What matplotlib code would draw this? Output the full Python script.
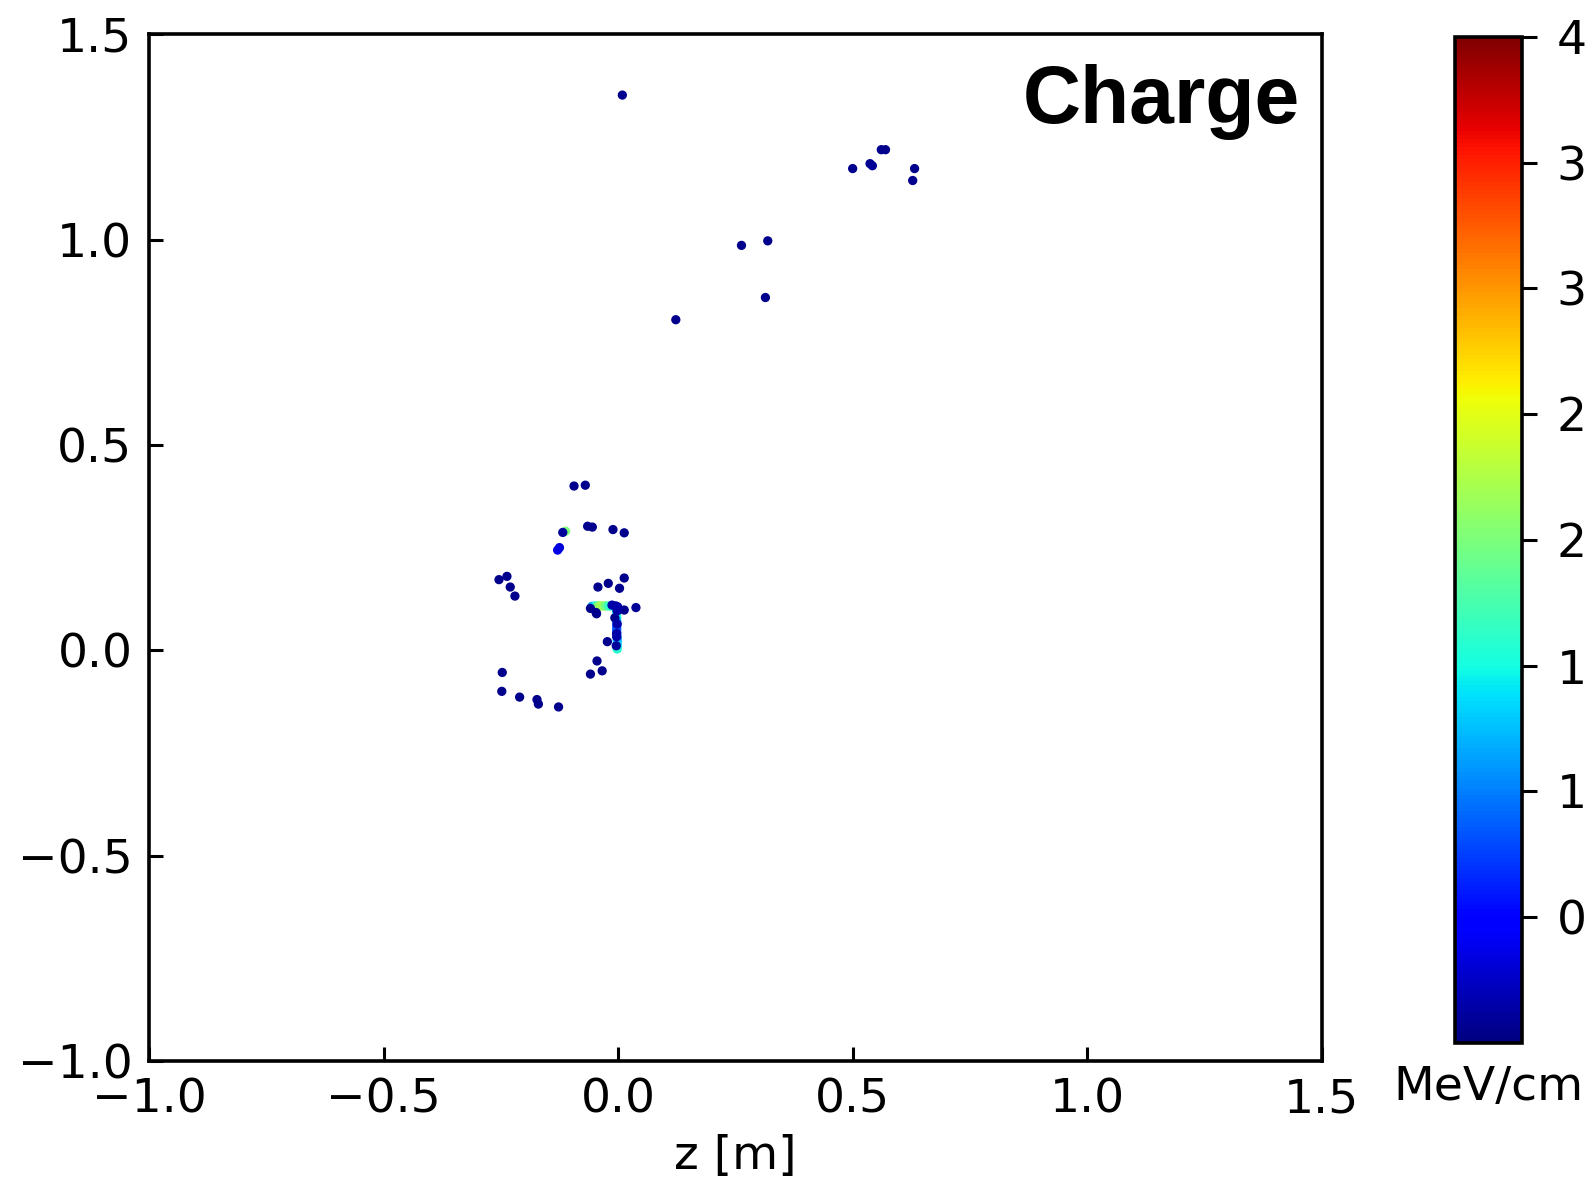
import matplotlib
matplotlib.use("Agg")
import matplotlib.pyplot as plt
import numpy as np

# isolated hits (z, x, dE/dx)
hit_z = [0.009, 0.500, 0.537, 0.542, 0.561, 0.570, 0.632, 0.628, 0.263, 0.319, 0.314, 0.123,
         -0.094, -0.070, -0.118, -0.065, -0.055, -0.011, 0.013, -0.125, -0.129,
         -0.254, -0.237, -0.230, -0.220, -0.043, -0.021, 0.003, 0.013, 0.038,
         -0.059, -0.047, -0.046, -0.013, -0.005, 0.013, -0.007,
         -0.001, -0.002, -0.002, -0.003, -0.003, -0.004,
         -0.023, -0.045, -0.034, -0.059, -0.247, -0.248, -0.210, -0.173, -0.170, -0.127]
hit_x = [1.352, 1.173, 1.185, 1.180, 1.219, 1.219, 1.173, 1.144, 0.986, 0.997, 0.859, 0.805,
         0.400, 0.402, 0.287, 0.302, 0.300, 0.294, 0.286, 0.250, 0.244,
         0.172, 0.180, 0.154, 0.132, 0.154, 0.163, 0.151, 0.176, 0.104,
         0.102, 0.092, 0.089, 0.110, 0.108, 0.098, 0.079,
         0.106, 0.096, 0.064, 0.041, 0.033, 0.011,
         0.021, -0.026, -0.050, -0.058, -0.054, -0.100, -0.114, -0.120, -0.131, -0.138]
hit_e = [0.05, 0.05, 0.05, 0.08, 0.05, 0.05, 0.05, 0.05, 0.05, 0.05, 0.05, 0.05,
         0.05, 0.05, 0.10, 0.05, 0.05, 0.05, 0.05, 0.30, 0.35,
         0.05, 0.05, 0.05, 0.05, 0.05, 0.05, 0.05, 0.05, 0.08,
         0.05, 0.05, 0.05, 0.15, 0.15, 0.05, 0.05,
         0.15, 0.15, 0.15, 0.15, 0.15, 0.10,
         0.05, 0.05, 0.05, 0.05, 0.05, 0.05, 0.05, 0.05, 0.05, 0.05]

# the short track near the vertex
trk_z = [-0.112, -0.056, -0.052, -0.048, -0.044, -0.040, -0.036, -0.032, -0.028, -0.024,
         -0.020, -0.016, -0.012, -0.008, -0.005,
         -0.003, -0.003, -0.003, -0.003, -0.003, -0.003, -0.003, -0.003, -0.003,
         -0.003, -0.002, -0.002, -0.002, -0.002, -0.002]
trk_x = [0.290, 0.107, 0.107, 0.108, 0.108, 0.108, 0.108, 0.108, 0.108, 0.108,
         0.108, 0.108, 0.108, 0.107, 0.107,
         0.100, 0.093, 0.086, 0.079, 0.072, 0.065, 0.058, 0.051, 0.044,
         0.037, 0.030, 0.023, 0.016, 0.009, 0.003]
trk_e = [2.0, 1.2, 1.3, 1.5, 1.9, 2.1, 2.2, 2.2, 2.0, 1.9,
         1.7, 1.6, 1.6, 1.4, 1.2,
         1.0, 1.4, 1.7, 1.5, 1.2, 0.9, 0.8, 0.8, 0.9,
         1.0, 1.1, 1.2, 1.3, 1.4, 1.6]

cbar_ticks = [0.5, 1.0, 1.5, 2.0, 2.5, 3.0, 3.5, 4.0]

plt.rcParams['font.size'] = 17
plt.rcParams['axes.linewidth'] = 1.3

fig = plt.figure(figsize=(7.945, 5.955), dpi=200)
ax = fig.add_axes([0.0938, 0.1092, 0.738, 0.862])
cax = fig.add_axes([0.9157, 0.1243, 0.0422, 0.8447])

z = trk_z + hit_z
x = trk_x + hit_x
e = trk_e + hit_e
sc = ax.scatter(z, x, c=e, cmap='jet', vmin=0, vmax=4, s=8, linewidths=0.5,
                edgecolors='face')

ax.set_xlim(-1.0, 1.5)
ax.set_ylim(-1.0, 1.5)
ax.set_xticks([-1.0, -0.5, 0.0, 0.5, 1.0, 1.5])
ax.set_yticks([-1.0, -0.5, 0.0, 0.5, 1.0, 1.5])
ax.tick_params(direction='in', length=5, width=1.1, pad=6, labelsize=17)
ax.set_xlabel('z [m]', fontsize=17, labelpad=4)

ax.text(0.9817, 0.9135, 'Charge', transform=ax.transAxes, ha='right', va='baseline',
        fontsize=29, fontweight='bold', family='Liberation Sans')

cb = fig.colorbar(sc, cax=cax)
cb.set_ticks(cbar_ticks)
cb.outline.set_linewidth(1.3)
cax.tick_params(direction='out', length=5.4, width=1.1, pad=7, labelsize=17)
cax.set_xlabel('MeV/cm', fontsize=17, labelpad=8)

fig.savefig('out.png', dpi=200)
